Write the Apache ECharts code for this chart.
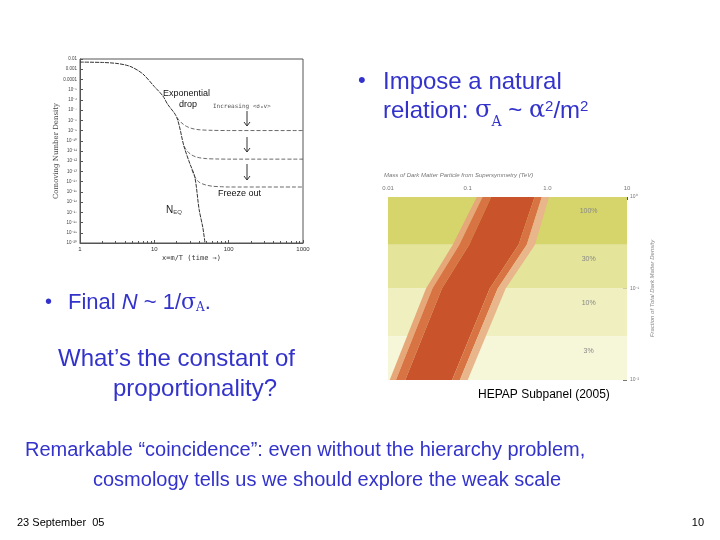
<!DOCTYPE html>
<html><head><meta charset="utf-8">
<script src="https://cdn.jsdelivr.net/npm/echarts@6/dist/echarts.min.js"></script>
<style>html,body{margin:0;padding:0;background:#fff}#c{width:720px;height:540px}</style>
</head><body><div id="c"></div>
<script>
// ---- data ----
const neqX = [1, 2, 3, 4, 5, 7, 10, 13, 15, 20, 25, 30, 35, 40, 45, 48];
const neqY = [5e-3, 4.6e-3, 3.8e-3, 2.7e-3, 1.6e-3, 3.5e-4, 2e-5, 2.5e-6, 4e-7, 2e-8, 3e-11, 6e-13, 3e-14, 2e-17, 3e-19, 1e-20];
const fo1X = [20, 23, 27, 32, 40, 60, 100, 1000];
const fo1Y = [2e-8, 6e-9, 2.6e-9, 1.6e-9, 1.2e-9, 1.05e-9, 1e-9, 1e-9];
const fo2X = [25, 28, 32, 38, 50, 70, 100, 1000];
const fo2Y = [3e-11, 9e-12, 4e-12, 2.4e-12, 1.8e-12, 1.65e-12, 1.6e-12, 1.6e-12];
const fo3X = [32, 35, 40, 48, 60, 80, 100, 1000];
const fo3Y = [1.5e-13, 3e-14, 9e-15, 5e-15, 3.6e-15, 3.2e-15, 3e-15, 3e-15];
const leftYTicks = ['0.01','0.001','0.0001','10⁻⁵','10⁻⁶','10⁻⁷','10⁻⁸','10⁻⁹','10⁻¹⁰','10⁻¹¹','10⁻¹²','10⁻¹³','10⁻¹⁴','10⁻¹⁵','10⁻¹⁶','10⁻¹⁷','10⁻¹⁸','10⁻¹⁹','10⁻²⁰'];
const leftXTicks = {1: '1', 10: '10', 100: '100', 1000: '1000'};
const bandEdges = [1, 0.3, 0.1, 0.03, 0.01];
const bandLabels = ['100%', '30%', '10%', '3%'];
const bandColors = ['#d5d56c', '#e4e49a', '#efefbf', '#f6f6d8'];
// red band edges (mass TeV, fraction), both listed bottom -> top
const bandY = [0.01, 0.1, 0.3, 1];
const bandLeftX = [0.0105, 0.03, 0.065, 0.13];
const bandRightX = [0.1, 0.3, 0.7, 1.05];
const rightXTicks = {0.01: '0.01', 0.1: '0.1', 1: '1.0', 10: '10'};
const rightYTicks = {1: '10⁰', 0.1: '10⁻¹', 0.01: '10⁻²'};

const pairs = (xs, ys) => xs.map((x, i) => [x, ys[i]]);
const chart = echarts.init(document.getElementById('c'));
const F = 'Liberation Sans, Arial, sans-serif';
const blue = '#3333cc';
const strips = [[0, 0.08, '#e6a878'], [0.08, 0.2, '#d87444'], [0.2, 0.8, '#c9542b'], [0.8, 0.9, '#d87444'], [0.9, 1, '#e9b58a']];

chart.setOption({
  animation: false,
  grid: [
    {left: 80, top: 59, width: 223, height: 184, show: true, borderColor: '#555', borderWidth: 1},
    {left: 388, top: 197, width: 239, height: 183, show: false}
  ],
  xAxis: [
    {gridIndex: 0, type: 'log', min: 1, max: 1000, interval: 1,
     axisLine: {lineStyle: {color: '#555'}}, axisTick: {inside: true, length: 3, lineStyle: {color: '#555'}},
     minorTick: {show: true, splitNumber: 9, length: 2}, splitLine: {show: false},
     axisLabel: {fontSize: 6, color: '#333', fontFamily: F, margin: 3, formatter: v => leftXTicks[Math.round(v)] || ''},
     name: 'x=m/T (time →)', nameLocation: 'middle', nameGap: 12, nameTextStyle: {fontSize: 7, color: '#333', fontFamily: 'DejaVu Sans Mono'}},
    {gridIndex: 1, type: 'log', min: 0.01, max: 10, interval: 1, position: 'top',
     axisLine: {show: false}, axisTick: {show: true, inside: true, length: 3, lineStyle: {color: '#555'}}, splitLine: {show: false},
     axisLabel: {fontSize: 6, color: '#777', fontFamily: F, margin: 6, formatter: v => rightXTicks[v] || ''}}
  ],
  yAxis: [
    {gridIndex: 0, type: 'log', min: 1e-20, max: 1e-2, interval: 1,
     axisLine: {lineStyle: {color: '#555'}}, axisTick: {inside: true, length: 3, lineStyle: {color: '#555'}}, splitLine: {show: false},
     axisLabel: {fontSize: 4.5, color: '#444', fontFamily: F, margin: 3, formatter: v => leftYTicks[Math.round(-Math.log10(v)) - 2]},
     name: 'Comoving Number Density', nameLocation: 'middle', nameGap: 20, nameTextStyle: {fontSize: 7, color: '#444', fontFamily: 'DejaVu Serif'}},
    {gridIndex: 1, type: 'log', min: 0.01, max: 1, interval: 1, position: 'right',
     axisLine: {show: false}, axisTick: {show: true, inside: true, length: 4, lineStyle: {color: '#777'}}, splitLine: {show: false},
     axisLabel: {fontSize: 5, color: '#777', fontFamily: F, margin: 3, formatter: v => rightYTicks[v] || ''},
     name: 'Fraction of Total Dark Matter Density', nameLocation: 'middle', nameGap: 22, nameRotate: 90,
     nameTextStyle: {fontSize: 6, color: '#888', fontStyle: 'italic', fontFamily: F}}
  ],
  series: [
    {type: 'line', xAxisIndex: 0, yAxisIndex: 0, data: pairs(neqX, neqY), smooth: 0.3, symbol: 'none', lineStyle: {color: '#333', width: 1, type: [4, 1]}},
    {type: 'line', xAxisIndex: 0, yAxisIndex: 0, data: pairs(fo1X, fo1Y), smooth: 0.3, symbol: 'none', lineStyle: {color: '#444', width: 0.8, type: [4, 2]}},
    {type: 'line', xAxisIndex: 0, yAxisIndex: 0, data: pairs(fo2X, fo2Y), smooth: 0.3, symbol: 'none', lineStyle: {color: '#444', width: 0.8, type: [4, 2]}},
    {type: 'line', xAxisIndex: 0, yAxisIndex: 0, data: pairs(fo3X, fo3Y), smooth: 0.3, symbol: 'none', lineStyle: {color: '#444', width: 0.8, type: [4, 2]}},
    {type: 'custom', xAxisIndex: 1, yAxisIndex: 1, data: bandLabels.map((l, i) => [i]), z: 1,
     renderItem: (p, api) => {
       const i = api.value(0);
       const a = api.coord([0.01, bandEdges[i]]), b = api.coord([10, bandEdges[i + 1]]);
       return {type: 'group', children: [
         {type: 'rect', shape: {x: a[0], y: a[1], width: b[0] - a[0], height: b[1] - a[1]}, style: {fill: bandColors[i]}},
         {type: 'text', x: api.coord([3.3, 1])[0], y: a[1] + 11, style: {text: bandLabels[i], fill: '#888', font: '7px ' + F, align: 'center'}}
       ]};
     }},
    {type: 'custom', xAxisIndex: 1, yAxisIndex: 1, data: [[0]], z: 3,
     renderItem: (p, api) => {
       const L = bandY.map((y, k) => api.coord([bandLeftX[k], y]));
       const R = bandY.map((y, k) => api.coord([bandRightX[k], y]));
       const at = (t) => L.map((q, k) => [q[0] + (R[k][0] - q[0]) * t, q[1]]);
       return {type: 'group', children: strips.map(([t0, t1, c]) => ({
         type: 'polygon', shape: {points: at(t0).concat(at(t1).reverse())}, style: {fill: c}
       }))};
     }}
  ],
  graphic: [
    {type: 'text', left: 384, top: 172, style: {text: 'Mass of Dark Matter Particle from Supersymmetry (TeV)', font: 'italic 6px ' + F, fill: '#777'}},
    {type: 'text', left: 163, top: 89, style: {text: 'Exponential', font: '9px ' + F, fill: '#111'}},
    {type: 'text', left: 179, top: 100, style: {text: 'drop', font: '9px ' + F, fill: '#111'}},
    {type: 'text', left: 213, top: 103, style: {text: 'Increasing <σ\u2090v>', font: '6px DejaVu Sans Mono', fill: '#555'}},
    {type: 'text', left: 218, top: 189, style: {text: 'Freeze out', font: '9px ' + F, fill: '#111'}},
    {type: 'text', left: 166, top: 205, style: {rich: {a: {fontSize: 10, fontFamily: F, fill: '#222'}, s: {fontSize: 6, fontFamily: F, fill: '#444', verticalAlign: 'bottom'}}, text: '{a|N}{s|EQ}'}},
    ...[[111, 126], [137, 152], [164, 180]].map(([y1, y2]) => ({type: 'group', children: [
      {type: 'line', shape: {x1: 247, y1: y1, x2: 247, y2: y2}, style: {stroke: '#333', lineWidth: 1}},
      {type: 'polyline', shape: {points: [[244, y2 - 4], [247, y2], [250, y2 - 4]]}, style: {stroke: '#333', lineWidth: 1, fill: null}}
    ]})),
    {type: 'text', left: 358, top: 70, style: {text: '•', font: '22px ' + F, fill: blue}},
    {type: 'text', left: 383, top: 70, style: {text: 'Impose a natural', font: '24px ' + F, fill: blue}},
    {type: 'text', left: 383, top: 99, style: {rich: {
      t: {fontSize: 24, fontFamily: F, fill: blue}, g: {fontSize: 24, fontFamily: 'DejaVu Serif', fill: blue},
      s: {fontSize: 14, fontFamily: 'DejaVu Serif', fill: blue, verticalAlign: 'bottom', padding: [0, 0, -6, 0]},
      u: {fontSize: 15, fontFamily: F, fill: blue, verticalAlign: 'top'}},
      text: '{t|relation: }{g|σ}{s|A}{t| ~ }{g|α}{u|2}{t|/m}{u|2}'}},
    {type: 'text', left: 45, top: 292, style: {text: '•', font: '20px ' + F, fill: blue}},
    {type: 'text', left: 68, top: 292, style: {rich: {
      t: {fontSize: 22, fontFamily: F, fill: blue}, i: {fontSize: 22, fontFamily: F, fontStyle: 'italic', fill: blue},
      g: {fontSize: 22, fontFamily: 'DejaVu Serif', fill: blue}, s: {fontSize: 12, fontFamily: 'DejaVu Serif', fill: blue, verticalAlign: 'bottom'}},
      text: '{t|Final }{i|N}{t| ~ 1/}{g|σ}{s|A}{t|.}'}},
    {type: 'text', left: 58, top: 347, style: {text: 'What’s the constant of', font: '24px ' + F, fill: blue}},
    {type: 'text', left: 113, top: 377, style: {text: 'proportionality?', font: '24px ' + F, fill: blue}},
    {type: 'text', left: 478, top: 389, style: {text: 'HEPAP Subpanel (2005)', font: '12px ' + F, fill: '#000'}},
    {type: 'text', left: 25, top: 440, style: {text: 'Remarkable “coincidence”: even without the hierarchy problem,', font: '20px ' + F, fill: blue}},
    {type: 'text', left: 93, top: 470, style: {text: 'cosmology tells us we should explore the weak scale', font: '20px ' + F, fill: blue}},
    {type: 'text', left: 17, top: 517, style: {text: '23 September  05', font: '11px ' + F, fill: '#000'}},
    {type: 'text', right: 16, top: 517, style: {text: '10', font: '11px ' + F, fill: '#000'}}
  ]
});
</script></body></html>
